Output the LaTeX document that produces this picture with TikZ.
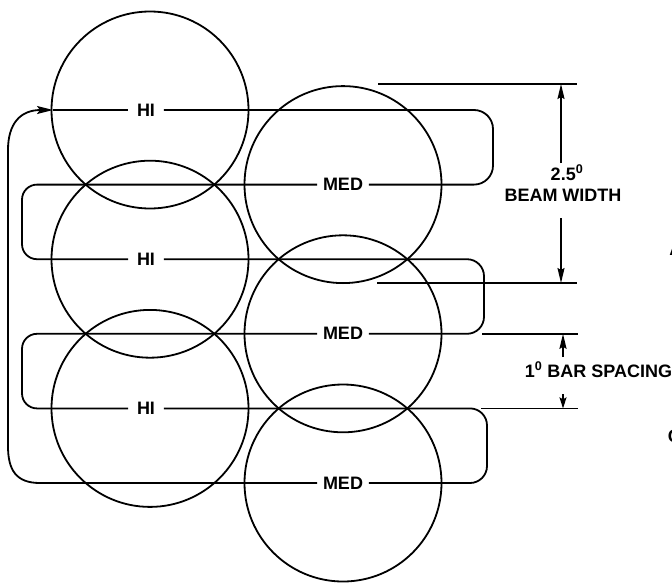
\documentclass[tikz,border=0pt]{standalone}
\usepackage{fontspec}
\setmainfont{Liberation Sans}
\usetikzlibrary{arrows.meta}
\begin{document}
\begin{tikzpicture}[x=1pt,y=-1pt,line width=1.8pt,
  beam/.style={draw,circle,minimum size=197pt,inner sep=0pt},
  txt/.style={font=\fontsize{18}{21}\selectfont\bfseries,inner sep=0pt},
  hilbl/.style={txt,inner xsep=8pt},
  medlbl/.style={txt,inner xsep=5pt},
  dim/.style={-{Stealth[length=15pt,width=7pt,inset=2pt]}},
  dimshort/.style={-{Stealth[length=11pt,width=7pt,inset=2pt]}},
  scanarrow/.style={-{Stealth[length=16pt,width=8pt,inset=3pt]}}]
\useasboundingbox (0,0) rectangle (672,584);
% beam circles
\node[beam] (c1) at (150,110) {};
\node[beam] (c2) at (150,259.2) {};
\node[beam] (c3) at (150,408.4) {};
\node[beam] (d1) at (343,184.6) {};
\node[beam] (d2) at (343,333.8) {};
\node[beam] (d3) at (343,483) {};
% bar labels
\node[hilbl] (h1) at (146,110) {HI};
\node[hilbl] (h2) at (146,259.2) {HI};
\node[hilbl] (h3) at (146,408.4) {HI};
\node[medlbl] (m1) at (343,184.6) {MED};
\node[medlbl] (m2) at (343,333.8) {MED};
\node[medlbl] (m3) at (343,483) {MED};
% scan path
\coordinate (tip) at (53,110);
\draw[scanarrow] (m3.west) -- (40,483) .. controls (16,483) and (8,470) .. (8,446)
  -- (8,150) .. controls (8,124) and (20,110) .. (tip);
\draw (tip) -- (h1.west);
\draw[rounded corners=19pt] (h1.east) -- (493,110) -- (493,184.6) -- (m1.east);
\draw[rounded corners=15pt] (m1.west) -- (22,184.6) -- (22,259.2) -- (h2.west);
\draw[rounded corners=17pt] (h2.east) -- (484,259.2) -- (484,333.8) -- (m2.east);
\draw[rounded corners=15pt] (m2.west) -- (22,333.8) -- (22,408.4) -- (h3.west);
\draw[rounded corners=17pt] (h3.east) -- (487,408.4) -- (487,483) -- (m3.east);
% extension lines
\coordinate (e1a) at (378,84);  \coordinate (e1b) at (577,84);
\coordinate (e2a) at (377,283); \coordinate (e2b) at (577,283);
\coordinate (e3a) at (482,333.8); \coordinate (e3b) at (578,333.8);
\coordinate (e4a) at (481,408.4); \coordinate (e4b) at (578,408.4);
\draw (e1a) -- (e1b);
\draw (e2a) -- (e2b);
\draw (e3a) -- (e3b);
\draw (e4a) -- (e4b);
% beam width dimension
\node[txt,anchor=base] (bw1) at (567,180) {2.5\textsuperscript{0}};
\node[txt,anchor=base] (bw2) at (563,201) {BEAM WIDTH};
\coordinate (bwu) at (561,163);
\coordinate (bwd) at (561,218);
\draw[dim] (bwu) -- (bwu |- e1a);
\draw[dim] (bwd) -- (bwd |- e2a);
% bar spacing dimension
\node[txt,anchor=base west] (bs) at (524,377) {1\textsuperscript{0} BAR SPACING};
\coordinate (bsu) at (563,357);
\coordinate (bsd) at (563,394);
\draw[dim] (bsu) -- (bsu |- e3a);
\draw[dimshort] (bsd) -- (bsd |- e4a);
% cut-off letters at right edge
\node[txt,anchor=base west] (ca) at (668.5,255) {A};
\node[txt,anchor=base west] (cc) at (667,442) {C};
\end{tikzpicture}
\end{document}
